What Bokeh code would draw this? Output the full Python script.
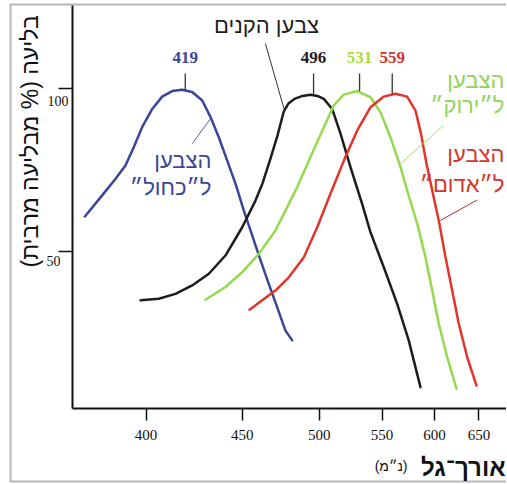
import numpy as np
from bokeh.plotting import figure
from bokeh.models import (Range1d, FixedTicker, CustomJSTickFormatter, Label,
                          ColumnDataSource, BoxAnnotation)
from bokeh.embed import file_html
from bokeh.resources import INLINE

# ---------------- data (wavelength in nm, absorption in % of maximum) ----------------
blue_nm = [373.6, 380.7, 386.4, 390.7, 394.4, 398.2, 402.9, 407.6, 412.5, 417.4, 422.5, 427.8,
           432.2, 436.7, 441.4, 446.1, 450.9, 455.9, 461.0, 466.1, 471.4, 476.8, 481.3]
blue_pct = [60.7, 67.2, 72.3, 76.4, 82.0, 88.2, 93.8, 97.6, 99.3, 99.7, 99.0, 96.4,
            91.3, 85.1, 77.9, 70.8, 62.6, 54.9, 47.2, 40.0, 32.8, 25.6, 22.6]

rod_nm = [397.5, 406.0, 414.1, 422.5, 431.3, 440.4, 450.0, 457.9, 462.2, 467.2, 471.6, 475.7, 478.8,
          482.8, 488.3, 493.8, 498.8, 503.4, 509.6, 515.9, 523.7, 533.1, 540.0, 551.5, 563.5,
          574.3, 585.7]
rod_pct = [34.9, 35.4, 36.9, 39.5, 43.1, 48.7, 57.4, 65.6, 70.9, 78.6, 85.6, 93.0, 95.5,
           96.9, 97.8, 98.2, 97.8, 96.9, 93.8, 86.2, 75.9, 64.6, 55.9, 45.1, 33.8,
           22.6, 8.2]

green_nm = [429.5, 440.4, 450.0, 459.9, 470.3, 475.7, 484.6, 493.8, 503.4, 510.8, 518.5, 529.1,
            540.0, 548.6, 557.4, 566.6, 572.8, 582.5, 590.7, 597.6, 604.4, 613.5, 623.7]
green_pct = [35.1, 39.0, 43.6, 49.2, 56.4, 61.5, 69.7, 79.0, 88.2, 94.9, 98.2, 99.3,
             97.4, 92.8, 85.1, 75.9, 68.7, 58.5, 48.2, 37.9, 27.7, 17.4, 7.7]

red_nm = [454.3, 462.0, 470.3, 479.0, 489.2, 498.6, 508.3, 518.5, 529.1, 540.0, 551.5, 562.0,
          572.8, 580.8, 586.2, 591.7, 597.6, 604.4, 611.6, 618.9, 626.3, 636.0, 647.0]
red_pct = [32.0, 34.9, 37.9, 42.0, 48.2, 57.4, 67.7, 77.9, 87.2, 94.3, 97.6, 98.5,
           97.6, 93.3, 86.2, 77.0, 68.7, 59.5, 48.2, 37.9, 27.7, 17.4, 8.7]

peak_nm = [419, 496, 531, 559]
peak_pct = [99.7, 98.2, 99.3, 98.5]
peak_labels = ["419", "496", "531", "559"]

x_ticks_nm = [400, 450, 500, 550, 600, 650]
y_ticks = [50, 100]
y_tick_labels = ["50", "100"]

# ---------------- styles ----------------
BLUE = "#3a4597"
BLACK = "#1c1c1c"
GREEN = "#93da4c"
GREEN_TXT = "#8fd45a"
RED = "#e1352b"
RED_TXT = "#d6342c"
HEB = "Liberation Sans"
SERIF = "Liberation Serif"
RLM = "\u200f"


def k(nm):
    # the wavelength axis of the original is drawn on a reciprocal (wavenumber) scale
    return 1000.0 / np.asarray(nm, dtype=float)


# visible window of the (reciprocal) wavelength scale and of the absorption scale
X0, X1 = 2.92037, 1.45887
Y0, Y1 = -21.45, 127.17
AX_X = 2.71241        # where the absorption axis stands (about 369 nm)
AX_Y = 1.63           # where the wavelength axis stands

p = figure(width=506, height=483, output_backend="svg", toolbar_location=None, title=None,
           x_range=Range1d(X0, X1), y_range=Range1d(Y0, Y1),
           min_border=0, min_border_left=0, min_border_right=0, min_border_top=0,
           min_border_bottom=0)
p.xgrid.visible = False
p.ygrid.visible = False
p.outline_line_color = None
p.background_fill_color = "white"
p.border_fill_color = "white"

# outer frame of the figure
p.add_layout(BoxAnnotation(left=2.89149, right=1.0, top=125.94, bottom=-20.83,
                           fill_alpha=0, line_color="#111", line_width=2))

# x axis
p.xaxis.fixed_location = AX_Y
p.xaxis.bounds = (X1, AX_X)
p.xaxis.ticker = FixedTicker(ticks=list(k(x_ticks_nm)))
p.xaxis.formatter = CustomJSTickFormatter(code="return Math.round(1000 / tick).toString();")
p.xaxis.axis_line_width = 2
p.xaxis.axis_line_color = "#111"
p.xaxis.major_tick_out = 12
p.xaxis.major_tick_in = 0
p.xaxis.minor_tick_out = 0
p.xaxis.minor_tick_in = 0
p.xaxis.major_tick_line_width = 1.5
p.xaxis.major_tick_line_color = "#111"
p.xaxis.major_label_text_font = SERIF
p.xaxis.major_label_text_font_size = "15px"
p.xaxis.major_label_text_color = "#111"
p.xaxis.major_label_standoff = 10

# y axis
p.yaxis.fixed_location = AX_X
p.yaxis.bounds = (AX_Y, 125.7)
p.yaxis.ticker = FixedTicker(ticks=y_ticks)
p.yaxis.formatter = CustomJSTickFormatter(code="return '';")
p.yaxis.axis_line_width = 2
p.yaxis.axis_line_color = "#111"
p.yaxis.major_tick_out = 14
p.yaxis.major_tick_in = 0
p.yaxis.minor_tick_out = 0
p.yaxis.minor_tick_in = 0
p.yaxis.major_tick_line_width = 1.5
p.yaxis.major_tick_line_color = "#111"

# y tick labels sit just under their ticks in the original
y_label_offsets = {"50": (-12, -10), "100": (-4, -12)}
for v, t in zip(y_ticks, y_tick_labels):
    dx, dy = y_label_offsets[t]
    p.add_layout(Label(x=AX_X, y=v, text=t, x_offset=dx, y_offset=dy,
                       text_align="right", text_baseline="middle",
                       text_font=SERIF, text_font_size="14px", text_color="#111"))

# curves
for nm, pct, col in [(blue_nm, blue_pct, BLUE), (rod_nm, rod_pct, BLACK),
                     (green_nm, green_pct, GREEN), (red_nm, red_pct, RED)]:
    p.line(k(nm), pct, line_color=col, line_width=2.5, line_join="round", line_cap="round")

# peak markers and values
peak_src = ColumnDataSource(dict(x=k(peak_nm), y=peak_pct, label=peak_labels,
                                 color=["#3a4597", "#1c1c1c", "#a6dc3e", "#cf3230"]))
p.segment(x0="x", y0="y", x1="x", y1=104.7, source=peak_src, line_color="#333", line_width=1.3)
p.text(x="x", y=109.7, text="label", source=peak_src, text_color="color",
       text_align="center", text_baseline="middle", text_font=SERIF,
       text_font_size="17px", text_font_style="bold")


# annotation texts + leader lines
def lab(x, y, text, color, align="center", size="22px", x_off=0):
    p.add_layout(Label(x=x, y=y, text=text, text_color=color, text_align=align,
                       text_baseline="middle", text_font=HEB, text_font_size=size, x_offset=x_off))


lab(1000 / 464.7, 119.5, "צבען הקנים", BLACK)
p.line(k([464.0, 476.2]), [113.9, 93.3], line_color="#333", line_width=1)

lab(1000 / 432.7, 77.9, "הצבען", BLUE, align="right")
lab(1000 / 432.7, 69.6, "ל״כחול״", BLUE, align="right")
p.line(k([422.5, 432.2]), [83.1, 90.8], line_color="#55609f", line_width=1)

lab(X1, 102.6, "הצבען", GREEN_TXT, align="right", x_off=-2)
lab(X1, 95.0, "ל״ירוק״", GREEN_TXT, align="right", x_off=-2)
p.line(k([609.5, 564.7]), [88.7, 76.4], line_color="#a9e068", line_width=1)

lab(X1, 79.8, "הצבען", RED_TXT, align="right", x_off=-2)
lab(X1, 70.6, "ל״אדום״", RED_TXT, align="right", x_off=-2)
p.line(k([647.9, 606.2]), [65.8, 59.5], line_color="#b3302b", line_width=1)

# axis titles
p.add_layout(Label(x=AX_X, y=122.6, x_offset=-42, text=RLM + "בליעה (% מבליעה מרבית)" + RLM,
                   angle=np.pi / 2, text_align="right", text_baseline="middle",
                   text_font=HEB, text_font_size="23px", text_color="#111"))
p.add_layout(Label(x=X1, y=-16.5, x_offset=-1, text="אורך־גל",
                   text_align="right", text_baseline="middle", text_font=HEB,
                   text_font_size="24px", text_font_style="bold", text_color="#111"))
p.add_layout(Label(x=X1, y=-16.5, x_offset=-99, y_offset=1, text=RLM + "(נ״מ)" + RLM,
                   text_align="right", text_baseline="middle", text_font=HEB,
                   text_font_size="14px", text_color="#111"))

open("out.html", "w").write(file_html(p, INLINE))
